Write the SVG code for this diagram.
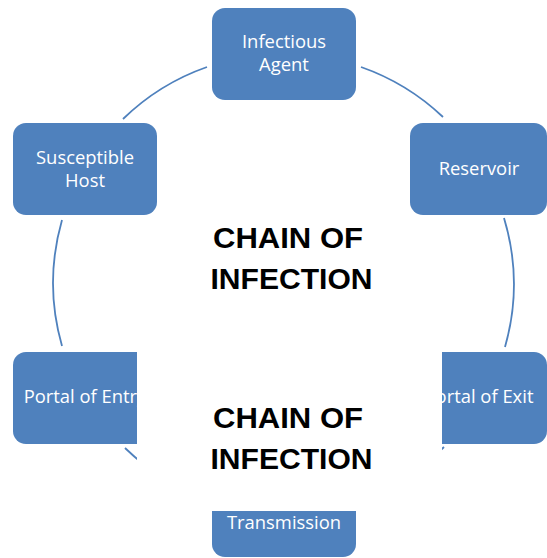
<svg xmlns="http://www.w3.org/2000/svg" width="547" height="558" viewBox="0 0 547 558">
<style>
.node{fill:#4F81BD;}
.lbl{font-family:"Open Sans","Noto Sans",sans-serif;font-size:18.4px;fill:#FFFFFF;text-anchor:middle;}
.arc{fill:none;stroke:#4F81BD;stroke-width:1.8;}
.title{font-family:"Liberation Sans",Arial,sans-serif;font-weight:bold;font-size:29px;fill:#000000;text-anchor:middle;}
</style>
<rect width="547" height="558" fill="#FFFFFF"/>
<g id="connectors">
<path class="arc" d="M361,67 A229,229 0 0,1 443,117"/>
<path class="arc" d="M504,218 A229,229 0 0,1 505,347"/>
<path class="arc" d="M444,447 A229,229 0 0,1 361,499"/>
<path class="arc" d="M207,499 A229,229 0 0,1 125,448"/>
<path class="arc" d="M62,346 A229,229 0 0,1 62,220"/>
<path class="arc" d="M123,119 A229,229 0 0,1 207,67"/>
</g>
<g id="infectious-agent">
<rect class="node" x="212" y="8" width="144" height="92" rx="13"/>
<text class="lbl" x="284" y="48">Infectious</text>
<text class="lbl" x="284" y="71">Agent</text>
</g>
<g id="reservoir">
<rect class="node" x="410" y="123" width="137" height="92" rx="13"/>
<text class="lbl" x="479" y="175">Reservoir</text>
</g>
<g id="portal-of-exit">
<rect class="node" x="410" y="352" width="137" height="92" rx="13"/>
<text class="lbl" x="479" y="403">Portal of Exit</text>
</g>
<g id="transmission">
<rect class="node" x="212" y="465" width="144" height="92" rx="13"/>
<text class="lbl" x="284" y="529">Transmission</text>
</g>
<g id="portal-of-entry">
<rect class="node" x="13" y="352" width="144" height="92" rx="13"/>
<text class="lbl" x="85" y="403">Portal of Entry</text>
</g>
<g id="susceptible-host">
<rect class="node" x="13" y="123" width="144" height="92" rx="13"/>
<text class="lbl" x="85" y="164">Susceptible</text>
<text class="lbl" x="85" y="187">Host</text>
</g>
<rect x="137" y="330" width="305" height="181" fill="#FFFFFF"/>
<g id="title-1">
<text class="title" x="288" y="248" textLength="150" lengthAdjust="spacingAndGlyphs">CHAIN OF</text>
<text class="title" x="291.5" y="288.5" textLength="162" lengthAdjust="spacingAndGlyphs">INFECTION</text>
</g>
<g id="title-2">
<text class="title" x="288" y="428" textLength="150" lengthAdjust="spacingAndGlyphs">CHAIN OF</text>
<text class="title" x="291.5" y="468.5" textLength="162" lengthAdjust="spacingAndGlyphs">INFECTION</text>
</g>
</svg>
